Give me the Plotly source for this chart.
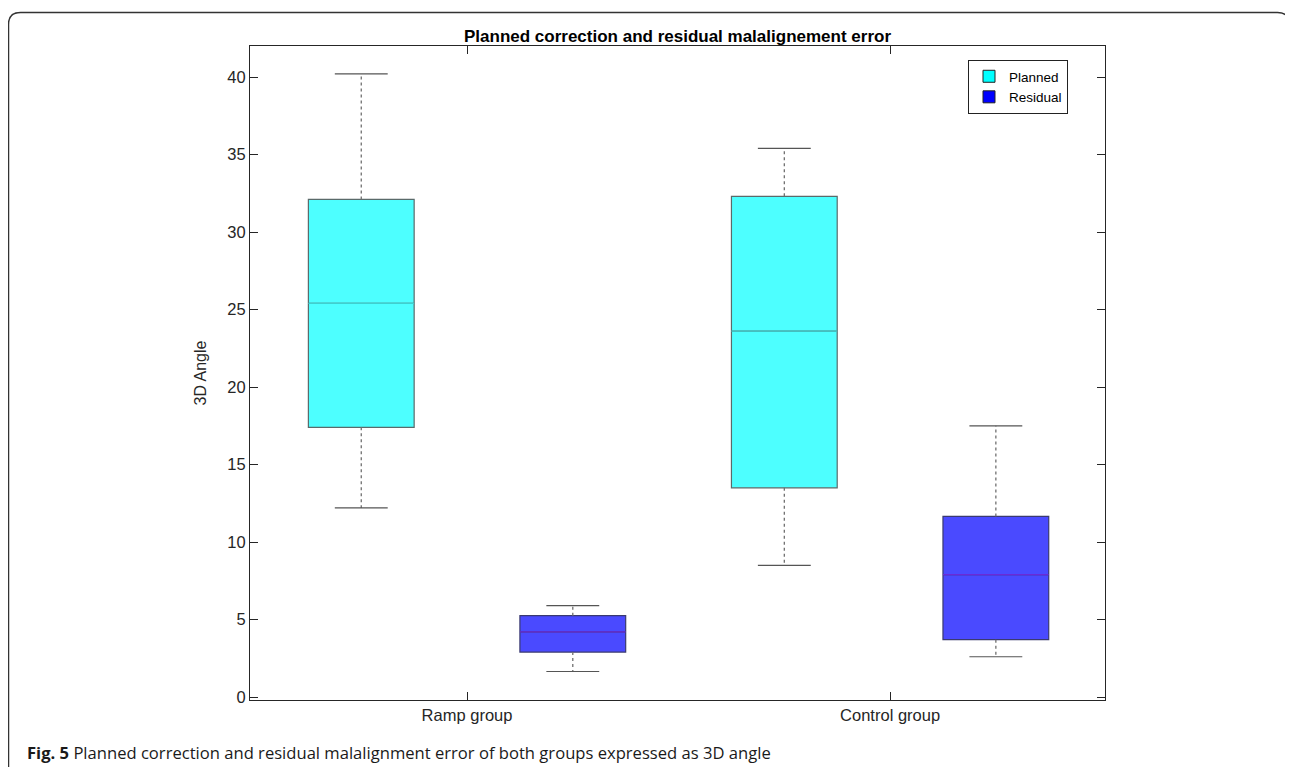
import plotly.graph_objects as go

# ---------------- data ----------------
groups = ["Ramp group", "Control group"]
group_pos = [1, 2]
series_names = ["Planned", "Residual"]

planned_lower = [12.2, 8.5]
planned_q1 = [17.4, 13.5]
planned_median = [25.4, 23.6]
planned_q3 = [32.1, 32.3]
planned_upper = [40.2, 35.4]

residual_lower = [1.65, 2.6]
residual_q1 = [2.9, 3.7]
residual_median = [4.2, 7.9]
residual_q3 = [5.25, 11.65]
residual_upper = [5.9, 17.5]

y_ticks = [0, 5, 10, 15, 20, 25, 30, 35, 40]

# ---------------- styling ----------------
W, H = 1293, 767          # window size
OX, OY = 8, 8             # page (body) offset of the plot div
FW, FH = W - OX, H - OY   # figure size
PL, PR, PT, PB = 250, 1105, 46, 700  # plot area in window pixels
L, T = PL - OX, PT - OY
R = FW - (PR - OX)
B = FH - (PB - OY)
offset = 0.25
box_w = 0.25
cap_half = 0.0625
axis_col = "#262626"
font_main = "Liberation Sans, Arial, sans-serif"

series = [
    dict(name="Planned", off=-offset, fill="#4dffff", legend_fill="#00ffff",
         med="#3fcfcf", outline="#5a6a6a",
         lo=planned_lower, q1=planned_q1, md=planned_median, q3=planned_q3, hi=planned_upper),
    dict(name="Residual", off=offset, fill="#4a4aff", legend_fill="#0000ff",
         med="#6a2ad8", outline="#3a3a70",
         lo=residual_lower, q1=residual_q1, md=residual_median, q3=residual_q3, hi=residual_upper),
]

fig = go.Figure()

for s in series:
    xs = [p + s["off"] for p in group_pos]
    fig.add_trace(go.Box(
        name=s["name"], x=xs, q1=s["q1"], median=s["md"], q3=s["q3"],
        lowerfence=s["q1"], upperfence=s["q3"], width=box_w,
        fillcolor=s["fill"], line=dict(color=s["outline"], width=1.2),
        boxpoints=False, whiskerwidth=0, showlegend=False, hoverinfo="skip",
    ))
    # median lines
    mx, my = [], []
    for x, m in zip(xs, s["md"]):
        mx += [x - box_w / 2, x + box_w / 2, None]
        my += [m, m, None]
    fig.add_trace(go.Scatter(x=mx, y=my, mode="lines", line=dict(color=s["med"], width=1.2),
                             showlegend=False, hoverinfo="skip"))
    # dotted whiskers
    wx, wy = [], []
    for x, q1, q3, lo, hi in zip(xs, s["q1"], s["q3"], s["lo"], s["hi"]):
        wx += [x, x, None, x, x, None]
        wy += [q3, hi, None, q1, lo, None]
    fig.add_trace(go.Scatter(x=wx, y=wy, mode="lines",
                             line=dict(color="#707070", width=1.3, dash="dot"),
                             showlegend=False, hoverinfo="skip"))
    # caps
    cx, cy = [], []
    for x, lo, hi in zip(xs, s["lo"], s["hi"]):
        cx += [x - cap_half, x + cap_half, None, x - cap_half, x + cap_half, None]
        cy += [hi, hi, None, lo, lo, None]
    fig.add_trace(go.Scatter(x=cx, y=cy, mode="lines", line=dict(color="#555555", width=1.2),
                             showlegend=False, hoverinfo="skip"))

# legend entries (same series, legend only)
for s in series:
    fig.add_trace(go.Bar(x=[None], y=[None], name=s["name"],
                         marker=dict(color=s["legend_fill"], line=dict(color="#222222", width=1)),
                         showlegend=True, hoverinfo="skip"))


# window pixel -> paper coords
def px_x(p):
    return (p - PL) / (PR - PL)


def px_y(p):
    return (PB - p) / (PB - PT)


x0, x1 = px_x(8.5), px_x(1289.5)
y0, y1 = px_y(790), px_y(12.5)
rx, ry = 12 / (PR - PL), 12 / (PB - PT)
path = (f"M {x0},{y0} L {x0},{y1 - ry} Q {x0},{y1} {x0 + rx},{y1} "
        f"L {x1 - rx},{y1} Q {x1},{y1} {x1},{y1 - ry} L {x1},{y0}")
fig.add_shape(type="path", path=path, xref="paper", yref="paper",
              line=dict(color="#333333", width=1.5), layer="above")

fig.update_layout(
    width=FW, height=FH,
    margin=dict(l=L, r=R, t=T, b=B, pad=0),
    paper_bgcolor="white", plot_bgcolor="white",
    font=dict(family=font_main, size=16, color=axis_col),
    title=dict(text="<b>Planned correction and residual malalignement error</b>",
               x=(L + (PR - PL) / 2) / FW, xanchor="center",
               y=1 - (36 - OY) / FH, yanchor="middle",
               font=dict(family=font_main, size=17, color="#000000")),
    showlegend=True,
    legend=dict(x=px_x(1068), y=px_y(60), xanchor="right", yanchor="top",
                bgcolor="white", bordercolor="#222222", borderwidth=1,
                font=dict(family=font_main, size=13.5, color="#000000"),
                itemwidth=30, tracegroupgap=0),
    boxmode="overlay",
    barmode="overlay",
)

fig.update_xaxes(
    range=[0.487, 2.508], tickmode="array", tickvals=group_pos, ticktext=groups,
    showline=True, linecolor=axis_col, linewidth=1.2, mirror="ticks",
    ticks="inside", ticklen=8, tickcolor=axis_col, showgrid=False, zeroline=False,
    tickfont=dict(family=font_main, size=16.5, color=axis_col),
)
fig.update_yaxes(
    range=[-0.19, 42.0], tickmode="array", tickvals=y_ticks,
    showline=True, linecolor=axis_col, linewidth=1.2, mirror="ticks",
    ticks="inside", ticklen=8, tickcolor=axis_col, showgrid=False, zeroline=False,
    tickfont=dict(family=font_main, size=16.5, color=axis_col),
    title=dict(text="3D Angle", font=dict(family=font_main, size=16, color=axis_col), standoff=16),
)

fig.add_annotation(
    text="<b>Fig. 5</b> Planned correction and residual malalignment error of both groups expressed as 3D angle",
    xref="paper", yref="paper", x=px_x(25), y=px_y(752), xanchor="left", yanchor="middle",
    showarrow=False, font=dict(family="Open Sans, Noto Sans, sans-serif", size=16.6, color="#1a1a1a"),
)

fig.write_html("out.html")
